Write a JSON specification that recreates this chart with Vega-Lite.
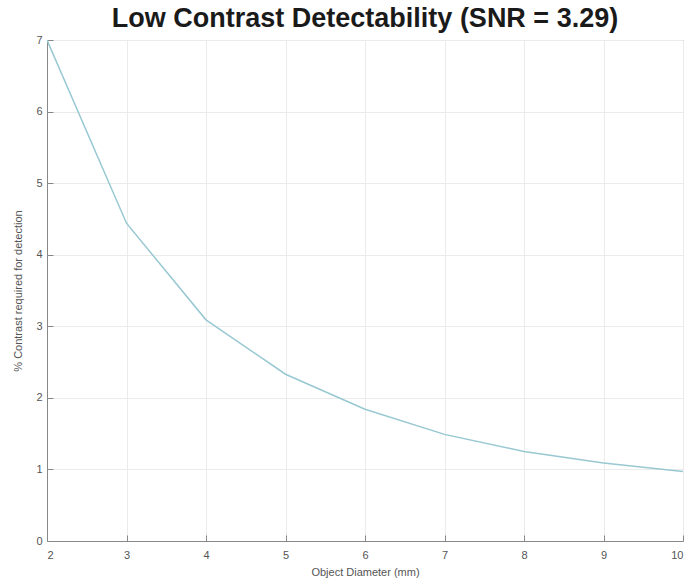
{
  "$schema": "https://vega.github.io/schema/vega-lite/v6.json",
  "width": 636,
  "height": 501,
  "autosize": {"type": "none"},
  "padding": {"left": 47, "top": 40, "right": 8, "bottom": 46},
  "background": "white",
  "title": {
    "text": "Low Contrast Detectability (SNR = 3.29)",
    "font": "Liberation Sans",
    "fontSize": 27,
    "fontWeight": "bold",
    "color": "#1a1a1a",
    "anchor": "middle",
    "offset": 1
  },
  "data": {
    "values": [
      {"d": 2, "c": 7.0},
      {"d": 3, "c": 4.44},
      {"d": 4, "c": 3.09},
      {"d": 5, "c": 2.33},
      {"d": 6, "c": 1.84},
      {"d": 7, "c": 1.49},
      {"d": 8, "c": 1.25},
      {"d": 9, "c": 1.09},
      {"d": 10, "c": 0.97}
    ]
  },
  "mark": {"type": "line", "color": "#98c8d2", "strokeWidth": 1.5, "clip": true},
  "encoding": {
    "x": {
      "field": "d",
      "type": "quantitative",
      "scale": {"domain": [2, 10], "nice": false},
      "axis": {
        "title": "Object Diameter (mm)",
        "values": [2, 3, 4, 5, 6, 7, 8, 9, 10],
        "format": "d",
        "labelPadding": 14,
        "titlePadding": 6
      }
    },
    "y": {
      "field": "c",
      "type": "quantitative",
      "scale": {"domain": [0, 7], "nice": false},
      "axis": {
        "title": "% Contrast required for detection",
        "values": [0, 1, 2, 3, 4, 5, 6, 7],
        "format": "d",
        "labelPadding": 11,
        "titlePadding": 12
      }
    }
  },
  "config": {
    "view": {"stroke": "#888888", "strokeWidth": 1},
    "axis": {
      "labelFont": "Liberation Sans",
      "titleFont": "Liberation Sans",
      "labelFontSize": 11,
      "titleFontSize": 11,
      "titleFontWeight": "normal",
      "labelColor": "#555555",
      "titleColor": "#555555",
      "domainColor": "#888888",
      "tickColor": "#888888",
      "tickSize": -6,
      "gridColor": "#ebebeb",
      "grid": true
    }
  }
}
